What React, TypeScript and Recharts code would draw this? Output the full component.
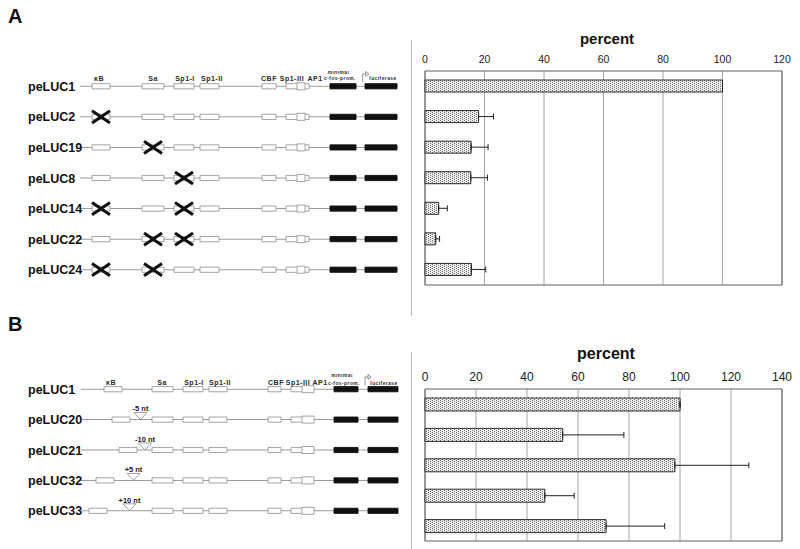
import React from "react";
import {
  BarChart, Bar, XAxis, YAxis, CartesianGrid, ReferenceArea, ReferenceLine,
  ErrorBar, ComposedChart, Scatter,
} from "recharts";

const FONT = "'Liberation Sans', Arial, Helvetica, sans-serif";

// ---- panel A: bar values ----
const constructsA = ["peLUC1", "peLUC2", "peLUC19", "peLUC8", "peLUC14", "peLUC22", "peLUC24"];
const percentA = [100, 18, 15.5, 15.4, 4.6, 3.6, 15.6];
const errA = [0, 5, 5.7, 5.6, 2.9, 1.3, 4.8];
const ticksA = [0, 20, 40, 60, 80, 100, 120];

// ---- panel B: bar values ----
const constructsB = ["peLUC1", "peLUC20", "peLUC21", "peLUC32", "peLUC33"];
const percentB = [100, 54, 98, 47, 71];
const errB = [0, 24, 29, 11.5, 23];
const ticksB = [0, 20, 40, 60, 80, 100, 120, 140];

// ---- promoter maps (map units along the construct) ----
const spanA = 318;
const sitesA = [
  { name: "κB", from: 12, to: 30, label: 19 },
  { name: "Sa", from: 62, to: 84, label: 73 },
  { name: "Sp1-I", from: 94, to: 114, label: 105 },
  { name: "Sp1-II", from: 120, to: 139, label: 132 },
  { name: "CBF", from: 182, to: 196, label: 189 },
  { name: "Sp1-III", from: 206, to: 229, label: 212 },
  { name: "AP1", from: 217, to: 225, label: 235 },
];
const blocksA = [
  { name: "c-fos-prom.", from: 250, to: 276, label: 260 },
  { name: "luciferase", from: 285, to: 317, label: 303 },
];
const minimalA = 258.5;
const startA = 282.7;
const mutatedA = [[], ["κB"], ["Sa"], ["Sp1-I"], ["κB", "Sp1-I"], ["Sa", "Sp1-I"], ["κB", "Sa"]];

const spanB = 317;
const kbFromB = [23, 31, 38, 15, 8];
const sitesB = [
  { name: "Sa", from: 71, to: 92, label: 81 },
  { name: "Sp1-I", from: 102, to: 122, label: 113 },
  { name: "Sp1-II", from: 128, to: 146, label: 139 },
  { name: "CBF", from: 187, to: 200, label: 195 },
  { name: "Sp1-III", from: 210, to: 227, label: 217 },
  { name: "AP1", from: 221, to: 233, label: 239 },
];
const blocksB = [
  { name: "c-fos-prom.", from: 253, to: 277, label: 263 },
  { name: "luciferase", from: 287, to: 317, label: 303 },
];
const kbLabelB = 30;
const minimalB = 261;
const startB = 284;
const insertAtB = [null, 59.5, 64, 52.5, 48.5];
const insertTextB = ["", "-5 nt", "-10 nt", "+5 nt", "+10 nt"];

type Box = { from: number; to: number; black?: boolean; tall?: boolean };
type Row = { boxes: Box[]; crosses: number[] };

function NameTick(props: any) {
  const { x, y, payload, names } = props;
  return (
    <text x={x} y={y} dy="0.36em" textAnchor="start" fontFamily={FONT} fontWeight={700} fontSize={12.5} fill="#111">
      {names[payload.value]}
    </text>
  );
}

function SiteLabel(props: any) {
  const { cx, cy, payload } = props;
  const small = payload.small;
  return (
    <text x={cx} y={cy} dy="0.36em" textAnchor="middle" fontFamily={FONT} fontWeight={700}
      fontSize={small ? 4.8 : 7} letterSpacing={small ? 0.5 : 0.5} fill="#2a2a2a">
      {payload.text}
    </text>
  );
}

function StartArrow(props: any) {
  const { cx, cy } = props;
  return (
    <g fill="none" stroke="#777" strokeWidth={0.8}>
      <path d={`M${cx},${cy} L${cx},${cy - 8} L${cx + 6},${cy - 8}`} />
      <path d={`M${cx + 3},${cy - 10.5} L${cx + 6},${cy - 8} L${cx + 3},${cy - 5.5} Z`} fill="#fff" />
    </g>
  );
}

function Insertion(props: any) {
  const { cx, cy, payload } = props;
  return (
    <g>
      <path d={`M${cx - 6.5},${cy - 7} L${cx + 6.5},${cy - 7} L${cx},${cy} Z`} fill="#fff" stroke="#888" strokeWidth={0.8} />
      <text x={cx} y={cy - 11} dy="0.36em" textAnchor="middle" fontFamily={FONT} fontWeight={700} fontSize={7.5} fill="#222">
        {payload.text}
      </text>
    </g>
  );
}

function Schematic(props: any) {
  const { names, rows, span, width, height, margin, nameMargin, labels, arrowAt, inserts } = props;
  const n = names.length;
  return (
    <ComposedChart width={width} height={height} margin={margin}>
      <XAxis type="number" dataKey="x" domain={[0, span]} allowDataOverflow hide />
      <YAxis type="number" dataKey="y" domain={[-0.5, n - 0.5]} allowDataOverflow reversed
        ticks={names.map((_: string, i: number) => i)} interval={0} width={56}
        axisLine={false} tickLine={false} tickSize={0} tickMargin={nameMargin}
        tick={(p: any) => <NameTick {...p} names={names} />} />
      {/* backbone: thin band so it stays under the boxes */}
      {rows.map((_: Row, i: number) => (
        <ReferenceArea key={`bb${i}`} x1={0} x2={span} y1={i - 0.016} y2={i + 0.016}
          fill="#9c9c9c" fillOpacity={1} stroke="none" />
      ))}
      {rows.map((r: Row, i: number) =>
        r.boxes.map((b, j) => {
          const h = b.tall ? 0.115 : 0.085;
          return (
            <ReferenceArea key={`bx${i}-${j}`} x1={b.from} x2={b.to} y1={i - h} y2={i + h}
              fill={b.black ? "#111" : "#fff"} fillOpacity={1}
              stroke={b.black ? "#111" : "#9a9a9a"} strokeWidth={0.9} />
          );
        })
      )}
      {rows.map((r: Row, i: number) =>
        r.crosses.map((c, j) => [
          <ReferenceLine key={`ca${i}-${j}`} segment={[{ x: c - 9, y: i - 0.2 }, { x: c + 9, y: i + 0.2 }]} stroke="#111" strokeWidth={3} />,
          <ReferenceLine key={`cb${i}-${j}`} segment={[{ x: c - 9, y: i + 0.2 }, { x: c + 9, y: i - 0.2 }]} stroke="#111" strokeWidth={3} />,
        ])
      )}
      {inserts && inserts.length > 0 && (
        <Scatter data={inserts} shape={(p: any) => <Insertion {...p} />} isAnimationActive={false} />
      )}
      <Scatter data={labels} shape={(p: any) => <SiteLabel {...p} />} isAnimationActive={false} />
      <Scatter data={[{ x: arrowAt, y: -0.14 }]} shape={(p: any) => <StartArrow {...p} />} isAnimationActive={false} />
    </ComposedChart>
  );
}

function PercentBars(props: any) {
  const { data, ticks, max, width, height, margin, barSize, tickFont } = props;
  return (
    <BarChart layout="vertical" width={width} height={height} data={data} margin={margin}>
      <CartesianGrid horizontal={false} stroke="#a6a6a6" />
      <XAxis type="number" orientation="top" domain={[0, max]} ticks={ticks} height={30}
        axisLine={false} tickLine={false} tickSize={6} tickMargin={2}
        tick={{ fill: "#222", fontSize: tickFont, fontFamily: FONT }} />
      <YAxis type="category" dataKey="name" hide />
      <ReferenceArea x1={0} x2={max} fill="none" stroke="#5e5e5e" strokeWidth={1} />
      <Bar dataKey="value" barSize={barSize} fill="url(#stipple)" stroke="#2a2a2a" strokeWidth={1} isAnimationActive={false}>
        <ErrorBar dataKey={(d: any) => [0, d.err]} direction="x" width={3} stroke="#222" strokeWidth={1} />
      </Bar>
    </BarChart>
  );
}

export default function App() {
  const barsA = constructsA.map((name, i) => ({ name, value: percentA[i], err: errA[i] }));
  const barsB = constructsB.map((name, i) => ({ name, value: percentB[i], err: errB[i] }));

  const centerOf = (sites: any[], name: string) => {
    const s = sites.find((t) => t.name === name);
    return (s.from + s.to) / 2;
  };

  const rowsA: Row[] = constructsA.map((_, i) => ({
    boxes: [
      ...sitesA.map((s) => ({ from: s.from, to: s.to, tall: s.name === "AP1" })),
      ...blocksA.map((b) => ({ from: b.from, to: b.to, black: true })),
    ],
    crosses: mutatedA[i].map((m) => centerOf(sitesA, m)),
  }));
  const labelsA = [
    ...sitesA.map((s) => ({ x: s.label, y: -0.27, text: s.name })),
    { x: minimalA, y: -0.46, text: "minimal", small: true },
    ...blocksA.map((b) => ({ x: b.label, y: -0.25, text: b.name, small: true })),
  ];

  const rowsB: Row[] = constructsB.map((_, i) => ({
    boxes: [
      { from: kbFromB[i], to: kbFromB[i] + 18 },
      ...sitesB.map((s) => ({ from: s.from, to: s.to, tall: s.name === "AP1" })),
      ...blocksB.map((b) => ({ from: b.from, to: b.to, black: true })),
    ],
    crosses: [],
  }));
  const labelsB = [
    { x: kbLabelB, y: -0.22, text: "κB" },
    ...sitesB.map((s) => ({ x: s.label, y: -0.22, text: s.name })),
    { x: minimalB, y: -0.46, text: "minimal", small: true },
    ...blocksB.map((b) => ({ x: b.label, y: -0.2, text: b.name, small: true })),
  ];
  const insertsB = insertAtB
    .map((at, i) => (at == null ? null : { x: at, y: i, text: insertTextB[i] }))
    .filter(Boolean);

  return (
    <div style={{ position: "absolute", left: 0, top: 0, width: 800, height: 549, background: "#fff", fontFamily: FONT, overflow: "hidden" }}>
      <svg width={0} height={0} style={{ position: "absolute" }}>
        <defs>
          <pattern id="stipple" width={4} height={2} patternUnits="userSpaceOnUse">
            <rect width={4} height={2} fill="#ededed" />
            <rect x={0} y={0} width={1} height={1} fill="#707070" />
            <rect x={2} y={1} width={1} height={1} fill="#707070" />
          </pattern>
        </defs>
      </svg>

      <div style={{ position: "absolute", left: 8, top: 5, fontSize: 20, fontWeight: 700, color: "#111" }}>A</div>
      <div style={{ position: "absolute", left: 8, top: 313, fontSize: 20, fontWeight: 700, color: "#111" }}>B</div>

      <div style={{ position: "absolute", left: 411, top: 40, width: 1, height: 276, background: "#b8b8b8" }} />
      <div style={{ position: "absolute", left: 411, top: 352, width: 1, height: 197, background: "#b8b8b8" }} />

      <div style={{ position: "absolute", left: 557, top: 30, width: 100, textAlign: "center", fontSize: 15, fontWeight: 700, color: "#111" }}>percent</div>
      <div style={{ position: "absolute", left: 556, top: 345, width: 100, textAlign: "center", fontSize: 16, fontWeight: 700, color: "#111" }}>percent</div>

      <div style={{ position: "absolute", left: 0, top: 0 }}>
        <Schematic names={constructsA} rows={rowsA} span={spanA} width={410} height={300}
          margin={{ top: 71, right: 12, bottom: 15, left: 24 }} nameMargin={52}
          labels={labelsA} arrowAt={startA} inserts={[]} />
      </div>
      <div style={{ position: "absolute", left: 0, top: 300 }}>
        <Schematic names={constructsB} rows={rowsB} span={spanB} width={410} height={249}
          margin={{ top: 74, right: 12, bottom: 23, left: 25 }} nameMargin={53}
          labels={labelsB} arrowAt={startB} inserts={insertsB} />
      </div>

      <div style={{ position: "absolute", left: 400, top: 0 }}>
        <PercentBars data={barsA} ticks={ticksA} max={120} width={400} height={300}
          margin={{ top: 41, right: 18, bottom: 15, left: 25 }} barSize={12} tickFont={10.5} />
      </div>
      <div style={{ position: "absolute", left: 400, top: 310 }}>
        <PercentBars data={barsB} ticks={ticksB} max={140} width={400} height={239}
          margin={{ top: 49, right: 18, bottom: 8, left: 25 }} barSize={13} tickFont={12} />
      </div>
    </div>
  );
}
